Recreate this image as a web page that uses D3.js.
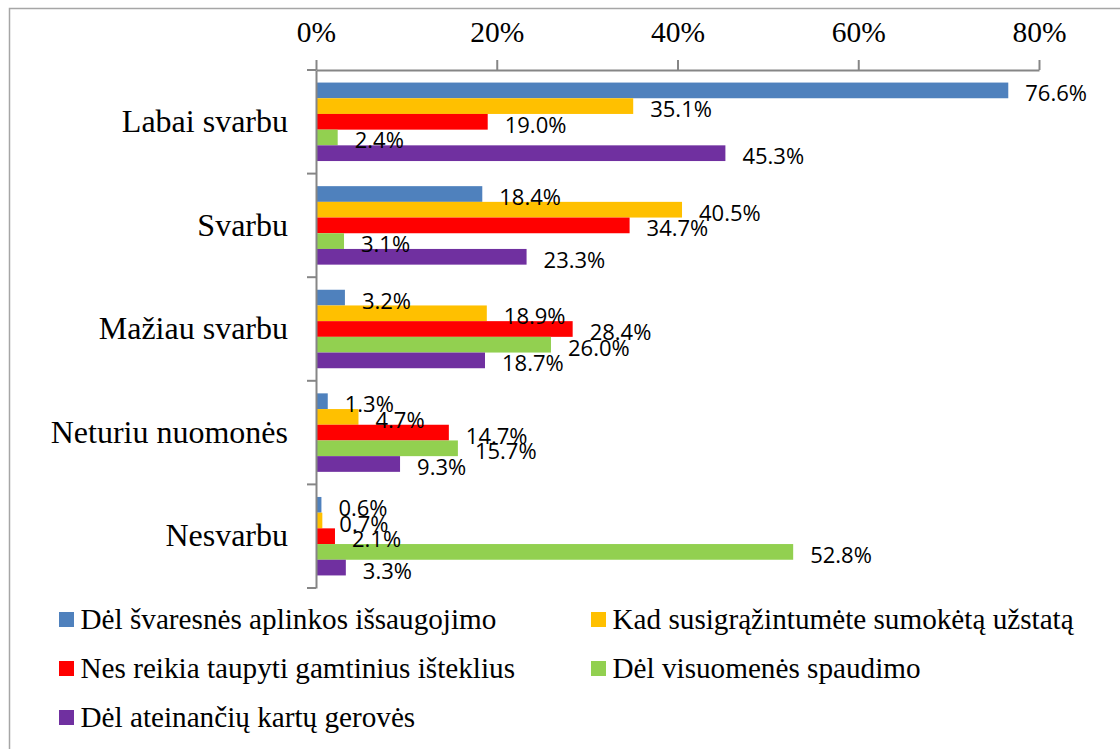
<!DOCTYPE html>
<html>
<head>
<meta charset="utf-8">
<script src="https://cdn.jsdelivr.net/npm/d3@7"></script>
<style>
  body { margin: 0; background: #fff; }
  svg { display: block; }
</style>
</head>
<body>
<svg width="1120" height="749"></svg>
<script>
// chart data
var categories = ["Labai svarbu", "Svarbu", "Mažiau svarbu", "Neturiu nuomonės", "Nesvarbu"];
var seriesNames = [
    "Dėl švaresnės aplinkos išsaugojimo",
    "Kad susigrąžintumėte sumokėtą užstatą",
    "Nes reikia taupyti gamtinius išteklius",
    "Dėl visuomenės spaudimo",
    "Dėl ateinančių kartų gerovės"
];
var seriesColors = ["#4F81BD", "#FFC000", "#FF0000", "#92D050", "#7030A0"];
var aplinka = [76.6, 18.4, 3.2, 1.3, 0.6];
var uzstatas = [35.1, 40.5, 18.9, 4.7, 0.7];
var istekliai = [19.0, 34.7, 28.4, 14.7, 2.1];
var spaudimas = [2.4, 3.1, 26.0, 15.7, 52.8];
var kartos = [45.3, 23.3, 18.7, 9.3, 3.3];
var tickValues = [0, 20, 40, 60, 80];

var seriesValues = [aplinka, uzstatas, istekliai, spaudimas, kartos];

var svg = d3.select("svg");

// outer frame (right and bottom edges are off the picture)
svg.append("rect")
    .attr("x", 9.5)
    .attr("y", 8.5)
    .attr("width", 1200)
    .attr("height", 900)
    .attr("fill", "none")
    .attr("stroke", "#a6a6a6")
    .attr("stroke-width", 1.5);

// note: "top" is taken by window.top, so plot edges get their own names
var plotL = 316, plotR = 1039, plotT = 70, plotB = 588;

var xScale = d3.scaleLinear().domain([0, 80]).range([plotL, plotR]);
var yScale = d3.scaleBand().domain(categories).range([plotT, plotB]).padding(0);
var inner = d3.scaleBand()
    .domain(d3.range(seriesNames.length))
    .range([0, yScale.bandwidth()])
    .paddingInner(0)
    .paddingOuter(0.8);

// bars
var rows = [];
categories.forEach(function(c, ci) {
    seriesValues.forEach(function(vals, si) {
        rows.push({ cat: c, s: si, v: vals[ci] });
    });
});

var g = svg.append("g");

g.selectAll("rect.bar")
    .data(rows)
    .enter()
    .append("rect")
    .attr("class", "bar")
    .attr("x", xScale(0))
    .attr("y", function(d) { return yScale(d.cat) + inner(d.s); })
    .attr("width", function(d) { return xScale(d.v) - xScale(0); })
    .attr("height", inner.bandwidth())
    .attr("fill", function(d) { return seriesColors[d.s]; });

// data labels
g.selectAll("text.lbl")
    .data(rows)
    .enter()
    .append("text")
    .attr("class", "lbl")
    .attr("x", function(d) { return xScale(d.v) + 17; })
    .attr("y", function(d) { return yScale(d.cat) + inner(d.s) + inner.bandwidth() / 2 + 2; })
    .attr("dominant-baseline", "central")
    .style("font-family", "'Open Sans', sans-serif")
    .style("font-size", "22px")
    .attr("fill", "#000")
    .text(function(d) { return d.v.toFixed(1) + "%"; });

// value axis on top
var xAxis = svg.append("g")
    .attr("transform", "translate(0," + plotT + ")")
    .call(d3.axisTop(xScale)
        .tickValues(tickValues)
        .tickSize(10)
        .tickSizeOuter(0)
        .tickPadding(18)
        .tickFormat(function(d) { return d + "%"; }));
xAxis.select(".domain").attr("stroke", "#868686").attr("stroke-width", 2);
xAxis.selectAll(".tick line").attr("stroke", "#868686").attr("stroke-width", 2);
xAxis.selectAll(".tick text")
    .style("font-family", "'Liberation Serif', 'Times New Roman', serif")
    .style("font-size", "29.5px")
    .attr("fill", "#000");

// category axis, labels
var yAxis = svg.append("g")
    .attr("transform", "translate(" + plotL + ",0)")
    .call(d3.axisLeft(yScale).tickSize(0).tickPadding(28));
yAxis.select(".domain").attr("stroke", "#868686").attr("stroke-width", 2);
yAxis.selectAll(".tick text")
    .style("font-family", "'Liberation Serif', 'Times New Roman', serif")
    .style("font-size", "32px")
    .attr("fill", "#000");

// tick marks between categories
var bounds = categories.map(function(c) { return yScale(c); }).concat([plotB]);
svg.append("g").selectAll("line")
    .data(bounds)
    .enter()
    .append("line")
    .attr("x1", plotL - 9)
    .attr("x2", plotL)
    .attr("y1", function(d) { return d; })
    .attr("y2", function(d) { return d; })
    .attr("stroke", "#868686")
    .attr("stroke-width", 2);

// legend
var legendPos = [
    [59, 629], [591, 629],
    [59, 678], [591, 678],
    [59, 727]
];
var legend = svg.append("g").selectAll("g")
    .data(seriesNames)
    .enter()
    .append("g")
    .attr("transform", function(d, i) { return "translate(" + legendPos[i][0] + "," + legendPos[i][1] + ")"; });
legend.append("rect")
    .attr("x", 0)
    .attr("y", -17)
    .attr("width", 15)
    .attr("height", 15)
    .attr("fill", function(d, i) { return seriesColors[i]; });
legend.append("text")
    .attr("x", 21.5)
    .attr("y", 0)
    .style("font-family", "'Liberation Serif', 'Times New Roman', serif")
    .style("font-size", "29.2px")
    .attr("fill", "#000")
    .text(function(d) { return d; });
</script>
</body>
</html>
